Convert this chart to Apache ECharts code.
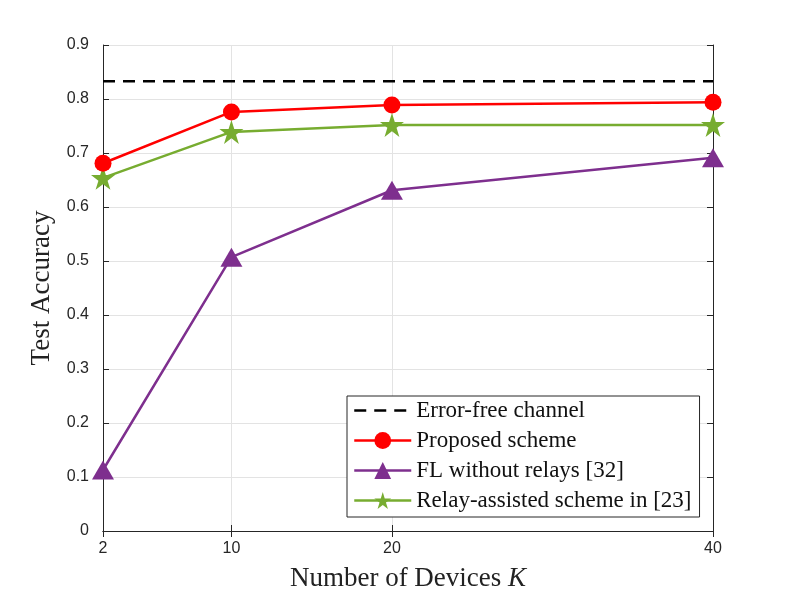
<!DOCTYPE html>
<html>
<head>
<meta charset="utf-8">
<script src="https://cdn.jsdelivr.net/npm/echarts@6/dist/echarts.min.js"></script>
<style>html,body{margin:0;padding:0;background:#fff;}#c{width:789px;height:597px;}</style>
</head>
<body>
<div id="c"></div>
<script>
var devices = [2, 10, 20, 40];
var xTicks = [2, 10, 20, 40];
var errorFree = [0.833, 0.833];
var errorFreeX = [2, 40];
var proposed = [0.681, 0.776, 0.789, 0.794];
var noRelay = [0.113, 0.507, 0.631, 0.691];
var relayAssisted = [0.654, 0.739, 0.752, 0.752];
var seriesNames = ['Error-free channel', 'Proposed scheme', 'FL without relays [32]', 'Relay-assisted scheme in [23]'];

function pairs(xs, ys) { return xs.map(function (x, i) { return [x, ys[i]]; }); }

var axisColor = '#262626';
var tickFont = { fontFamily: 'Liberation Sans', fontSize: 16, color: axisColor };
var serif = 'Liberation Serif';
var starPath = 'path://M50,0 L61.8,36.2 L100,36.2 L69.1,58.8 L80.9,95.1 L50,72.7 L19.1,95.1 L30.9,58.8 L0,36.2 L38.2,36.2 Z';

var chart = echarts.init(document.getElementById('c'));
chart.setOption({
  animation: false,
  grid: { left: 103, right: 76, top: 45, bottom: 66, containLabel: false },
  xAxis: [{
    type: 'value', min: 2, max: 40,
    axisLine: { show: true, lineStyle: { color: axisColor, width: 1 } },
    axisTick: { show: true, inside: true, length: 6, customValues: xTicks, lineStyle: { color: axisColor } },
    axisLabel: Object.assign({ customValues: xTicks, margin: 10 }, tickFont),
    splitLine: { show: true, lineStyle: { color: '#e3e3e3', width: 1 } },
    name: '{n|Number of Devices }{k|K}',
    nameLocation: 'middle', nameGap: 34,
    nameTextStyle: { rich: { n: { fontFamily: serif, fontSize: 27, color: '#222' }, k: { fontFamily: serif, fontSize: 27, fontStyle: 'italic', color: '#222' } } }
  }, {
    type: 'value', min: 2, max: 40, position: 'top',
    axisLine: { show: true, lineStyle: { color: axisColor, width: 1 } },
    axisTick: { show: true, inside: true, length: 6, customValues: xTicks, lineStyle: { color: axisColor } },
    axisLabel: { show: false, customValues: xTicks },
    splitLine: { show: false }
  }],
  yAxis: [{
    type: 'value', min: 0, max: 0.9, interval: 0.1,
    axisLine: { show: true, lineStyle: { color: axisColor, width: 1 } },
    axisTick: { show: true, inside: true, length: 6, lineStyle: { color: axisColor } },
    axisLabel: Object.assign({ margin: 14, formatter: function (v) { return Math.round(v * 10) / 10 + ''; } }, tickFont),
    splitLine: { show: true, lineStyle: { color: '#e3e3e3', width: 1 } },
    name: 'Test Accuracy', nameLocation: 'middle', nameGap: 47,
    nameTextStyle: { fontFamily: serif, fontSize: 27, color: '#222' }
  }, {
    type: 'value', min: 0, max: 0.9, interval: 0.1, position: 'right',
    axisLine: { show: true, lineStyle: { color: axisColor, width: 1 } },
    axisTick: { show: true, inside: true, length: 6, lineStyle: { color: axisColor } },
    axisLabel: { show: false },
    splitLine: { show: false }
  }],
  legend: {
    orient: 'vertical', left: 347, top: 396,
    backgroundColor: '#fff', borderColor: axisColor, borderWidth: 1,
    padding: [3, 8, 5, 6], itemGap: 7, itemWidth: 57, itemHeight: 21,
    lineStyle: { width: 2.5 },
    textStyle: { fontFamily: serif, fontSize: 23, color: '#111' },
    data: [
      { name: seriesNames[0], itemStyle: { color: 'rgba(0,0,0,0)', borderWidth: 0 } },
      { name: seriesNames[1] },
      { name: seriesNames[2] },
      { name: seriesNames[3] }
    ]
  },
  series: [{
    name: seriesNames[0], type: 'line', data: pairs(errorFreeX, errorFree),
    symbol: 'none', lineStyle: { color: '#000', width: 2.5, type: [12, 8] }, itemStyle: { color: '#000' }, z: 3
  }, {
    name: seriesNames[1], type: 'line', data: pairs(devices, proposed),
    symbol: 'circle', symbolSize: 17, lineStyle: { color: '#ff0000', width: 2.5 }, itemStyle: { color: '#ff0000' }, z: 5
  }, {
    name: seriesNames[2], type: 'line', data: pairs(devices, noRelay),
    symbol: 'triangle', symbolSize: [22, 19], lineStyle: { color: '#7e2f8e', width: 2.5 }, itemStyle: { color: '#7e2f8e' }, z: 4
  }, {
    name: seriesNames[3], type: 'line', data: pairs(devices, relayAssisted),
    symbol: starPath,
    symbolSize: 24, lineStyle: { color: '#77ac30', width: 2.5 }, itemStyle: { color: '#77ac30' }, z: 4
  }]
});
</script>
</body>
</html>
